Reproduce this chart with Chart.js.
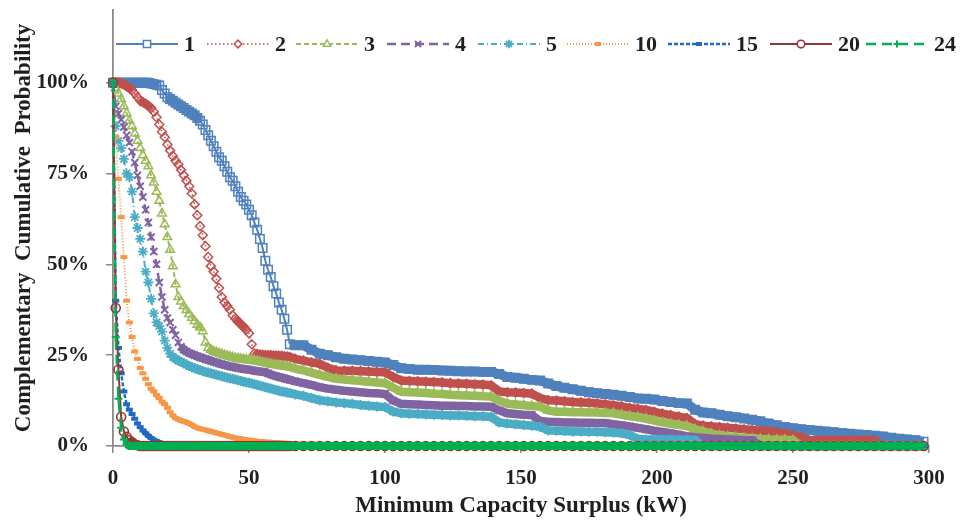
<!DOCTYPE html>
<html>
<head>
<meta charset="utf-8">
<script src="https://cdn.jsdelivr.net/npm/chart.js@4.4.1/dist/chart.umd.min.js"></script>
<style>
  html, body { margin: 0; padding: 0; background: #fff; }
  #wrap { width: 960px; height: 520px; }
</style>
</head>
<body>
<div id="wrap"><canvas id="ccdfChart" width="960" height="520"></canvas></div>
<script>
// --- data: minimum capacity surplus (kW) grid ---
const kw = [
  0,1,2,3,4,5,6,7,8,9,10,
  11,12,13,14,15,16,17,18,19,20,21,
  22,23,24,25,26,27,28,29,30,31,32,
  33,34,35,36,37,38,39,40,41,42,43,
  44,45,46,47,48,49,50,51,52,53,54,
  55,56,57,58,59,60,61,62,63,64,65,
  67,70,73,76,79,82,85,88,91,94,
  97,100,103,106,109,112,115,118,121,124,
  127,130,133,136,139,142,145,148,151,154,
  157,160,163,166,169,172,175,178,181,184,
  187,190,193,196,199,202,205,208,211,214,
  217,220,223,226,229,232,235,238,241,244,
  247,250,253,256,259,262,265,268,271,274,
  277,280,283,286,289,292,295,298
];

// complementary cumulative probability (%) per series
const p1 = [
  100,100,100,100,100,100,100,100,100,100,100,
  100,100,100,99.8,99.6,99.4,99.2,98,97,96,95.5,
  95,94.5,94,93.5,93,92.5,92,91.5,91,90.3,89.5,
  88.5,87,85.5,84,82.5,81,79.5,78.5,77,75.5,74,
  73,71.5,70,68.5,67.5,66.5,65,63.5,61.5,59.5,57,
  54.5,51,48.5,46.5,44,42,39.5,37.5,35,32,28,
  27.7,27.7,26.5,25.4,25,24.4,24,23.8,23.6,23.4,
  23.2,23,22.3,21.4,21.2,21,21,20.9,20.8,20.7,
  20.6,20.5,20.5,20.4,20.4,19.8,19,18.8,18.5,18.2,
  18,17.2,16.5,16,15.6,15.2,14.8,14.5,14.3,14.1,
  13.8,13.5,13.1,13,12.8,12.4,12.1,11.8,11.7,10,
  9.2,9,8.6,8.2,7.9,7.6,7.2,6.8,6.2,5.7,
  5.2,4.9,4.6,4.4,4.2,4,3.8,3.6,3.4,3.2,
  3,2.8,2.6,2.3,2,1.8,1.6,1.2
];
const p2 = [
  100,100,100,99.8,99.5,99,98.5,98,97,96,95,
  94.6,94.2,93.6,93,92,90.5,88.5,86.5,85,83,81.3,
  79.8,78.5,77.5,76,74.5,73,71.5,69.5,66.5,63.5,60.5,
  58,55,52,49.5,48,46,43.5,41,39.5,38.5,37.5,
  36,35,34.3,33.5,32.8,32,31,28,25.4,25.3,25.2,
  25.1,25,25,25,24.9,24.9,24.8,24.8,24.7,24.6,24.5,
  24,23.5,23,22.6,21.5,20.8,20.7,20.7,20.6,20.5,
  20.4,20.3,19,18,17.9,17.8,17.7,17.6,17.5,17.3,
  17.2,17.1,17,16.9,16.7,15,14.8,14.7,14.6,14.4,
  13.2,12.6,12.5,12.3,12.1,12,11.9,11.7,11.5,11.2,
  10.9,10.5,10.2,9.9,9.4,8.9,8.5,8.1,7.7,6,
  5.6,5.4,5.2,5,4.8,4.6,4.4,4.2,4,3.8,
  3.4,3,2.4,1.6,1.6,1.6,1.6,1.6,1.6,1.6,
  1.6,1.5,0,0,0,0,0,0
];
const p3 = [
  100,98.5,97,95.5,93.5,91.6,89.5,88,86,84,82,
  80,78.5,77,74.5,72.5,70,67.5,64,61,57.5,54,
  49.5,44.5,41,39.8,38.5,37.4,36.3,35.3,34.4,33.4,32.6,
  31.6,28.5,27,26.5,26,25.8,25.5,25.3,25,24.8,24.6,
  24.4,24.2,24.1,24,23.9,23.8,23.7,23.6,23.5,23.4,23.2,
  23,22.9,22.7,22.6,22.5,22.3,22.2,22.1,22,21.9,21.8,
  21.3,20.8,20.2,19.6,19,18.5,18.3,18.1,17.9,17.7,
  17.5,17.3,16,14.9,14.8,14.7,14.6,14.4,14.3,14.1,
  14,13.9,13.8,13.7,13.6,12.5,11.6,11.4,11.2,11,
  10.8,9.8,9.4,9.4,9.3,9.3,9.2,9.2,9.1,9,
  8.6,8.2,7.9,7.5,7,6.5,6.1,5.8,5.5,4.6,
  4,3.4,2.9,2.6,2.4,2.2,2,1.9,1.8,1.7,
  1.7,1.6,0,0,0,0,0,0,0,0,
  0,0,0,0,0,0,0,0
];
const p4 = [
  100,93.5,91.5,89.8,87.8,85.5,83.5,81,78,74.5,71.5,
  68.5,65,61.5,57.5,53.5,50,45,41,37.5,35.2,34,
  32,30.5,28.5,27.3,26.5,26,25.6,25.3,25,24.7,24.4,
  24.2,23.9,23.7,23.4,23.2,23,22.7,22.5,22.3,22.1,21.9,
  21.8,21.6,21.5,21.3,21.2,21.1,21,20.9,20.7,20.6,20.5,
  20.4,20.3,20,19.7,19.4,19.2,19,18.8,18.6,18.4,18.2,
  17.8,17.3,16.8,16.2,15.8,15.5,15.2,15,14.8,14.6,
  14.5,14.3,12.5,11.6,11.5,11.4,11.3,11.2,11.1,11.1,
  11,11,10.9,10.9,10.8,9.8,9,8.8,8.6,8.5,
  6.9,6.7,6.6,6.5,6.5,6.4,6.4,6.3,6.3,6,
  5.7,5.4,5,4.6,4.2,3.9,3.5,3.1,2.7,2.4,
  2.2,2,1.9,1.8,1.7,1.6,1.6,0,0,0,
  0,0,0,0,0,0,0,0,0,0,
  0,0,0,0,0,0,0,0
];
const p5 = [
  100,88,84,82,79,75,74,70,63,60,57,
  53.5,48,45,40.5,36.5,34,33,31.5,29,27,25.4,
  24.5,24,23.5,23.2,22.8,22.4,22,21.7,21.4,21.1,20.9,
  20.6,20.4,20.2,20,19.8,19.6,19.4,19.2,19,18.8,18.6,
  18.5,18.3,18.1,17.9,17.7,17.5,17.4,17.2,17,16.8,16.6,
  16.4,16.2,16,15.8,15.6,15.4,15.2,15,14.9,14.7,14.6,
  14.2,13.8,13.2,12.6,12.3,12,11.8,11.6,11.3,11.1,
  10.9,10.7,9.5,9,8.9,8.8,8.7,8.6,8.5,8.4,
  8.4,8.3,8.2,8.2,8,6.5,6.2,6,5.8,5.6,
  5.3,4.3,4.2,4.1,4,4,3.9,3.9,3.8,3.7,
  3.5,3,1.9,1.8,1.8,1.8,1.8,1.7,1.7,1.6,
  0,0,0,0,0,0,0,0,0,0,
  0,0,0,0,0,0,0,0,0,0,
  0,0,0,0,0,0,0,0
];
const p10 = [
  100,85,73.5,63,52,40,34,30,26,24,21.5,
  20,18.5,17,15.8,15,14,13.2,12.2,11.5,10.5,9.3,
  8.4,7.7,7.3,7,6.8,6.5,6.2,5.8,5.3,5,4.8,
  4.6,4.4,4.2,4,3.8,3.6,3.4,3.2,3,2.8,2.6,
  2.4,2.2,2.1,2,1.8,1.7,1.6,1.5,1.4,1.3,1.2,
  1.2,1.1,1,1,0.9,0.9,0.8,0.8,0.7,0.7,0.6,
  0.6,0.5,0.5,0.4,0.4,0.3,0.3,0.2,0.2,0.2,
  0.1,0.1,0,0,0,0,0,0,0,0,
  0,0,0,0,0,0,0,0,0,0,
  0,0,0,0,0,0,0,0,0,0,
  0,0,0,0,0,0,0,0,0,0,
  0,0,0,0,0,0,0,0,0,0,
  0,0,0,0,0,0,0,0,0,0,
  0,0,0,0,0,0,0,0
];
const p15 = [
  100,40,27,20,15,11.5,10,8.8,7.5,6.2,5.2,
  4.3,3.5,2.8,2.2,1.7,1.3,1,0.6,0.3,0.1,0,
  0,0,0,0,0,0,0,0,0,0,0,
  0,0,0,0,0,0,0,0,0,0,0,
  0,0,0,0,0,0,0,0,0,0,0,
  0,0,0,0,0,0,0,0,0,0,0,
  0,0,0,0,0,0,0,0,0,0,
  0,0,0,0,0,0,0,0,0,0,
  0,0,0,0,0,0,0,0,0,0,
  0,0,0,0,0,0,0,0,0,0,
  0,0,0,0,0,0,0,0,0,0,
  0,0,0,0,0,0,0,0,0,0,
  0,0,0,0,0,0,0,0,0,0,
  0,0,0,0,0,0,0,0
];
const p20 = [
  100,38,21,8,4,2.5,1.6,1,0.5,0.2,0,
  0,0,0,0,0,0,0,0,0,0,0,
  0,0,0,0,0,0,0,0,0,0,0,
  0,0,0,0,0,0,0,0,0,0,0,
  0,0,0,0,0,0,0,0,0,0,0,
  0,0,0,0,0,0,0,0,0,0,0,
  0,0,0,0,0,0,0,0,0,0,
  0,0,0,0,0,0,0,0,0,0,
  0,0,0,0,0,0,0,0,0,0,
  0,0,0,0,0,0,0,0,0,0,
  0,0,0,0,0,0,0,0,0,0,
  0,0,0,0,0,0,0,0,0,0,
  0,0,0,0,0,0,0,0,0,0,
  0,0,0,0,0,0,0,0
];
const p24 = [
  100,30,13,5,1.8,0.5,0,0,0,0,0,
  0,0,0,0,0,0,0,0,0,0,0,
  0,0,0,0,0,0,0,0,0,0,0,
  0,0,0,0,0,0,0,0,0,0,0,
  0,0,0,0,0,0,0,0,0,0,0,
  0,0,0,0,0,0,0,0,0,0,0,
  0,0,0,0,0,0,0,0,0,0,
  0,0,0,0,0,0,0,0,0,0,
  0,0,0,0,0,0,0,0,0,0,
  0,0,0,0,0,0,0,0,0,0,
  0,0,0,0,0,0,0,0,0,0,
  0,0,0,0,0,0,0,0,0,0,
  0,0,0,0,0,0,0,0,0,0,
  0,0,0,0,0,0,0,0
];

const seriesNames = ['1', '2', '3', '4', '5', '10', '15', '20', '24'];
const seriesValues = [p1, p2, p3, p4, p5, p10, p15, p20, p24];
const xTicks = [0, 50, 100, 150, 200, 250, 300];
const yTicks = [0, 0.25, 0.5, 0.75, 1];

// --- styles (Excel-like palette); band = width where the dense markers merge ---
const styles = [
  { color: '#4F81BD', dash: [],           width: 2,   band: 9.5, marker: 'rect',     radius: 6,   mw: 1.5, fill: false },
  { color: '#C0504D', dash: [1.5, 2.5],   width: 1.5, band: 8.5, marker: 'rectRot',  radius: 4.5, mw: 1.5, fill: false },
  { color: '#9BBB59', dash: [5, 3],       width: 2,   band: 8.5, marker: 'triangle', radius: 5,   mw: 1.5, fill: false },
  { color: '#8064A2', dash: [9, 5],       width: 2.5, band: 8.5, marker: 'crossRot', radius: 5,   mw: 2,   fill: false },
  { color: '#4BACC6', dash: [6, 3, 1, 3], width: 2,   band: 8.5, marker: 'star',     radius: 5,   mw: 1.8, fill: false },
  { color: '#F79646', dash: [1, 2],       width: 2,   band: 5.5, marker: 'line',     radius: 3.5, mw: 4,   fill: true },
  { color: '#1F6BC1', dash: [4, 2],       width: 2.5, band: 5.5, marker: 'line',     radius: 3.5, mw: 4,   fill: true },
  { color: '#943634', dash: [],           width: 2,   band: 7,   marker: 'circle',   radius: 4.5, mw: 1.6, fill: false },
  { color: '#00B050', dash: [10, 6],      width: 2.5, band: 8,   marker: 'cross',    radius: 4,   mw: 2,   fill: false }
];

const serif = "'Liberation Serif', 'DejaVu Serif', serif";
const axisGray = '#8a8a8a';
const textColor = '#1f1f1f';

function toPoints(vals) {
  return kw.map((x, i) => ({ x: x, y: vals[i] / 100 }));
}

// flat stretches of the curve: markers there overlap into a solid band
function isFlat(c) {
  const dx = c.p1.parsed.x - c.p0.parsed.x;
  const dy = Math.abs(c.p1.parsed.y - c.p0.parsed.y);
  return dx > 0 && dy / dx < 0.009;
}

const datasets = seriesNames.map((name, i) => {
  const st = styles[i];
  return {
    label: name,
    data: toPoints(seriesValues[i]),
    borderColor: st.color,
    backgroundColor: st.color,
    borderWidth: st.width,
    borderDash: st.dash,
    segment: {
      borderWidth: c => isFlat(c) ? st.band : st.width,
      borderDash: c => isFlat(c) ? [] : st.dash
    },
    pointStyle: st.marker,
    pointRadius: st.radius,
    pointBorderWidth: st.mw,
    pointBorderColor: st.color,
    pointBackgroundColor: st.fill ? st.color : 'rgba(255,255,255,0)',
    tension: 0,
    fill: false,
    clip: false,
    order: seriesNames.length - i   // later series drawn on top, like Excel
  };
});

// legend drawn by hand: line sample with marker in the middle, then label
const legendPlugin = {
  id: 'lineLegend',
  afterDraw(chart) {
    const ctx = chart.ctx;
    const starts = [116, 207, 296, 387, 478, 567, 668, 770, 866];
    const lineLen = 62, y = 44;
    ctx.save();
    chart.data.datasets.forEach((ds, i) => {
      const st = styles[i];
      const x0 = starts[i];
      ctx.strokeStyle = st.color;
      ctx.lineWidth = st.width;
      ctx.setLineDash(st.dash);
      ctx.beginPath();
      ctx.moveTo(x0, y);
      ctx.lineTo(x0 + lineLen, y);
      ctx.stroke();
      ctx.setLineDash([]);
      ctx.lineWidth = st.mw;
      ctx.fillStyle = st.fill ? st.color : '#fff';
      if (Chart.helpers && Chart.helpers.drawPoint) {
        Chart.helpers.drawPoint(ctx, {
          pointStyle: st.marker, radius: st.radius * 0.85, borderWidth: st.mw, rotation: 0
        }, x0 + lineLen / 2, y);
      }
      ctx.fillStyle = textColor;
      ctx.font = "bold 22px " + serif;
      ctx.textAlign = 'left';
      ctx.textBaseline = 'middle';
      ctx.fillText(ds.label, x0 + lineLen + 6, y + 1);
    });
    ctx.restore();
  }
};

new Chart(document.getElementById('ccdfChart'), {
  type: 'line',
  data: { datasets: datasets },
  plugins: [legendPlugin],
  options: {
    responsive: false,
    animation: false,
    events: [],
    layout: { padding: { top: 10, right: 31, left: 0, bottom: 0 } },
    plugins: {
      legend: { display: false },
      tooltip: { enabled: false }
    },
    scales: {
      x: {
        type: 'linear',
        min: 0,
        max: 300,
        afterBuildTicks: s => { s.ticks = xTicks.map(v => ({ value: v })); },
        afterFit: s => { s.height = 74; s.paddingLeft = 0; s.paddingRight = 0; },
        ticks: {
          color: textColor,
          padding: 13,
          maxRotation: 0,
          font: { family: serif, size: 21, weight: 'bold' }
        },
        grid: {
          display: true,
          drawOnChartArea: false,
          drawTicks: true,
          tickLength: 7,
          color: axisGray,
          lineWidth: 1.5
        },
        border: { display: true, color: axisGray, width: 1.8 },
        title: {
          display: true,
          text: 'Minimum Capacity Surplus (kW)',
          color: textColor,
          padding: { top: 0, bottom: 0 },
          font: { family: serif, size: 23, weight: 'bold' }
        }
      },
      y: {
        type: 'linear',
        min: 0,
        max: 1.2,
        afterBuildTicks: s => { s.ticks = yTicks.map(v => ({ value: v })); },
        afterFit: s => { s.width = 113; s.paddingTop = 0; s.paddingBottom = 0; },
        ticks: {
          color: textColor,
          padding: 17,
          font: { family: serif, size: 21, weight: 'bold' },
          callback: v => Math.round(v * 100) + '%'
        },
        grid: {
          display: true,
          drawOnChartArea: false,
          drawTicks: true,
          tickLength: 7,
          color: axisGray,
          lineWidth: 1.5
        },
        border: { display: true, color: axisGray, width: 1.8 },
        title: {
          display: true,
          text: 'Complementary  Cumulative  Probability',
          color: textColor,
          padding: { top: 10, bottom: 0 },
          font: { family: serif, size: 23, weight: 'bold' }
        }
      }
    }
  }
});
</script>
</body>
</html>
